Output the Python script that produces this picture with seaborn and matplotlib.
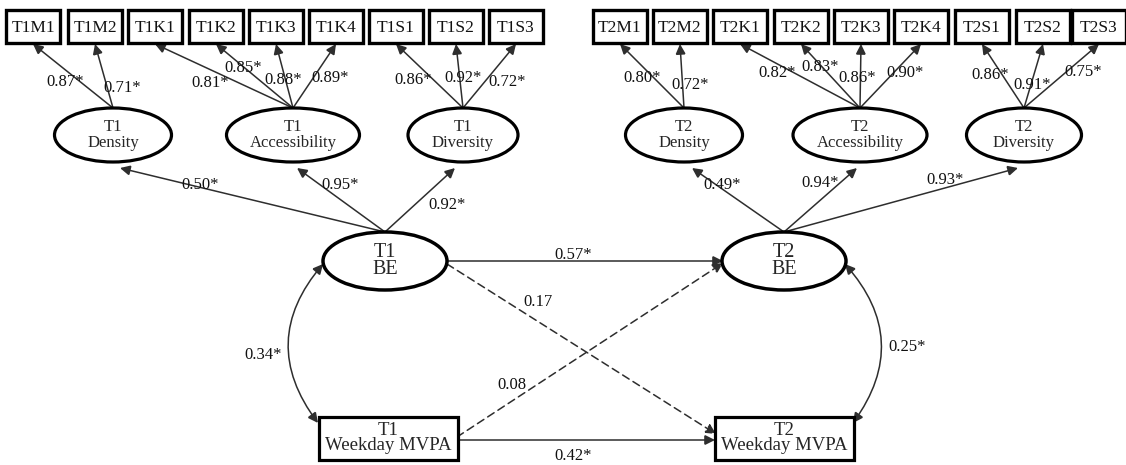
import matplotlib
matplotlib.use("Agg")
import seaborn as sns
import matplotlib.pyplot as plt
from matplotlib.patches import Ellipse, Rectangle, FancyArrowPatch

# ---- data ----
factors = ["T1\nDensity", "T1\nAccessibility", "T1\nDiversity",
           "T2\nDensity", "T2\nAccessibility", "T2\nDiversity"]
indicators = [["T1M1", "T1M2"], ["T1K1", "T1K2", "T1K3", "T1K4"], ["T1S1", "T1S2", "T1S3"],
              ["T2M1", "T2M2"], ["T2K1", "T2K2", "T2K3", "T2K4"], ["T2S1", "T2S2", "T2S3"]]
loadings = [[0.87, 0.71], [0.81, 0.85, 0.88, 0.89], [0.86, 0.92, 0.72],
            [0.80, 0.72], [0.82, 0.83, 0.86, 0.90], [0.86, 0.91, 0.75]]
be_loadings = [0.50, 0.95, 0.92, 0.49, 0.94, 0.93]
paths = ["T1 BE -> T2 BE", "T1 BE -> T2 MVPA", "T1 MVPA -> T2 BE", "T1 MVPA -> T2 MVPA"]
path_coefs = [0.57, 0.17, 0.08, 0.42]
path_sig = [True, False, False, True]
covariances = [0.34, 0.25]


def fmt(v, sig=True):
    return f"{v:.2f}" + ("*" if sig else "")


# ---- layout (pixels, y down) ----
W, H = 1126, 465
box_x = [[33, 95], [155, 216, 276, 336], [396, 456, 516],
         [620, 680], [740, 801, 861, 921], [982, 1043, 1099]]
box_w, box_top, box_bot = 54, 10, 43
fac_x = [113, 293, 463, 684, 860, 1024]
fac_w = [117, 133, 110, 117, 134, 115]
fac_y, fac_h = 135, 54
fac_tip = [120, 297, 455, 692, 857, 1018]
load_pos = [[(65, 82), (122, 88)], [(210, 83), (243, 68), (283, 80), (330, 78)],
            [(413, 80), (463, 78), (507, 82)], [(642, 78), (690, 85)],
            [(777, 73), (820, 67), (857, 78), (905, 73)],
            [(990, 75), (1032, 85), (1083, 72)]]
be_lab_pos = [(200, 185), (340, 185), (447, 205), (722, 185), (820, 183), (945, 180)]
be_c = [(385, 261), (784, 261)]
be_w, be_h = 124, 58
mv_c = [(388, 438), (784, 438)]
mv_w, mv_h = 139, 43

sns.set_theme(style="white")
plt.rcParams['font.family'] = ['Liberation Serif', 'DejaVu Serif']

fig = plt.figure(figsize=(W / 100, H / 100), dpi=100)
ax = fig.add_axes([0, 0, 1, 1])
ax.set_xlim(0, W)
ax.set_ylim(H, 0)
ax.axis("off")

LC = "#2e2e2e"


def arrow(p1, p2, style="-|>", ls="-", rad=0.0, lw=1.1):
    a = FancyArrowPatch(p1, p2, arrowstyle=style, mutation_scale=15, color=LC,
                        lw=lw, linestyle=ls, shrinkA=0, shrinkB=0,
                        connectionstyle=f"arc3,rad={rad}", zorder=2)
    a.set_joinstyle("miter")
    ax.add_patch(a)


def label(x, y, s, size=12):
    ax.text(x, y, s, ha="center", va="center", fontsize=size, color="#111111", zorder=5)


# indicator boxes + loadings
for f in range(len(factors)):
    top = (fac_x[f], fac_y - fac_h / 2)
    for i, name in enumerate(indicators[f]):
        bx = box_x[f][i]
        ax.add_patch(Rectangle((bx - box_w / 2, box_top), box_w, box_bot - box_top,
                               fill=True, fc="white", ec="black", lw=2.4, zorder=3))
        label(bx, (box_top + box_bot) / 2 + 1, name, 12.5)
        arrow(top, (bx, box_bot + 1))
        lx, ly = load_pos[f][i]
        label(lx, ly, fmt(loadings[f][i]), 12)
    ax.add_patch(Ellipse((fac_x[f], fac_y), fac_w[f], fac_h, fc="white", ec="black",
                         lw=2.3, zorder=3))
    ax.text(fac_x[f], fac_y, factors[f], ha="center", va="center", fontsize=12,
            linespacing=1.05, zorder=5)

# BE -> factor loadings
for f in range(len(factors)):
    src = be_c[0] if f < 3 else be_c[1]
    arrow((src[0], src[1] - be_h / 2), (fac_tip[f], fac_y + fac_h / 2 + 6))
    label(*be_lab_pos[f], fmt(be_loadings[f]))

# BE ellipses and MVPA boxes
for t in range(2):
    cx, cy = be_c[t]
    ax.add_patch(Ellipse((cx, cy), be_w, be_h, fc="white", ec="black", lw=2.5, zorder=3))
    ax.text(cx, cy, f"T{t + 1}\nBE", ha="center", va="center", fontsize=14.5,
            linespacing=0.9, zorder=5)
    mx, my = mv_c[t]
    ax.add_patch(Rectangle((mx - mv_w / 2, my - mv_h / 2), mv_w, mv_h, fc="white",
                           ec="black", lw=2.3, zorder=3))
    ax.text(mx, my, f"T{t + 1}\nWeekday MVPA", ha="center", va="center", fontsize=13.5,
            linespacing=0.9, zorder=5)

# cross-lagged paths
ends = [((447, 261), (723, 261)), ((447, 264), (716, 434)),
        ((457, 437), (723, 263)), ((457, 440), (715, 440))]
path_lab = [(573, 255), (538, 302), (512, 385), (573, 456)]
for k in range(len(paths)):
    arrow(ends[k][0], ends[k][1], ls="-" if path_sig[k] else (0, (5, 3)))
    label(*path_lab[k], fmt(path_coefs[k], path_sig[k]))

# covariances
arrow((323, 264), (318, 423), style="<|-|>", rad=0.4)
label(263, 355, fmt(covariances[0]))
arrow((845, 264), (853, 423), style="<|-|>", rad=-0.4)
label(907, 347, fmt(covariances[1]))

fig.savefig("out.png", dpi=100, facecolor="white")
